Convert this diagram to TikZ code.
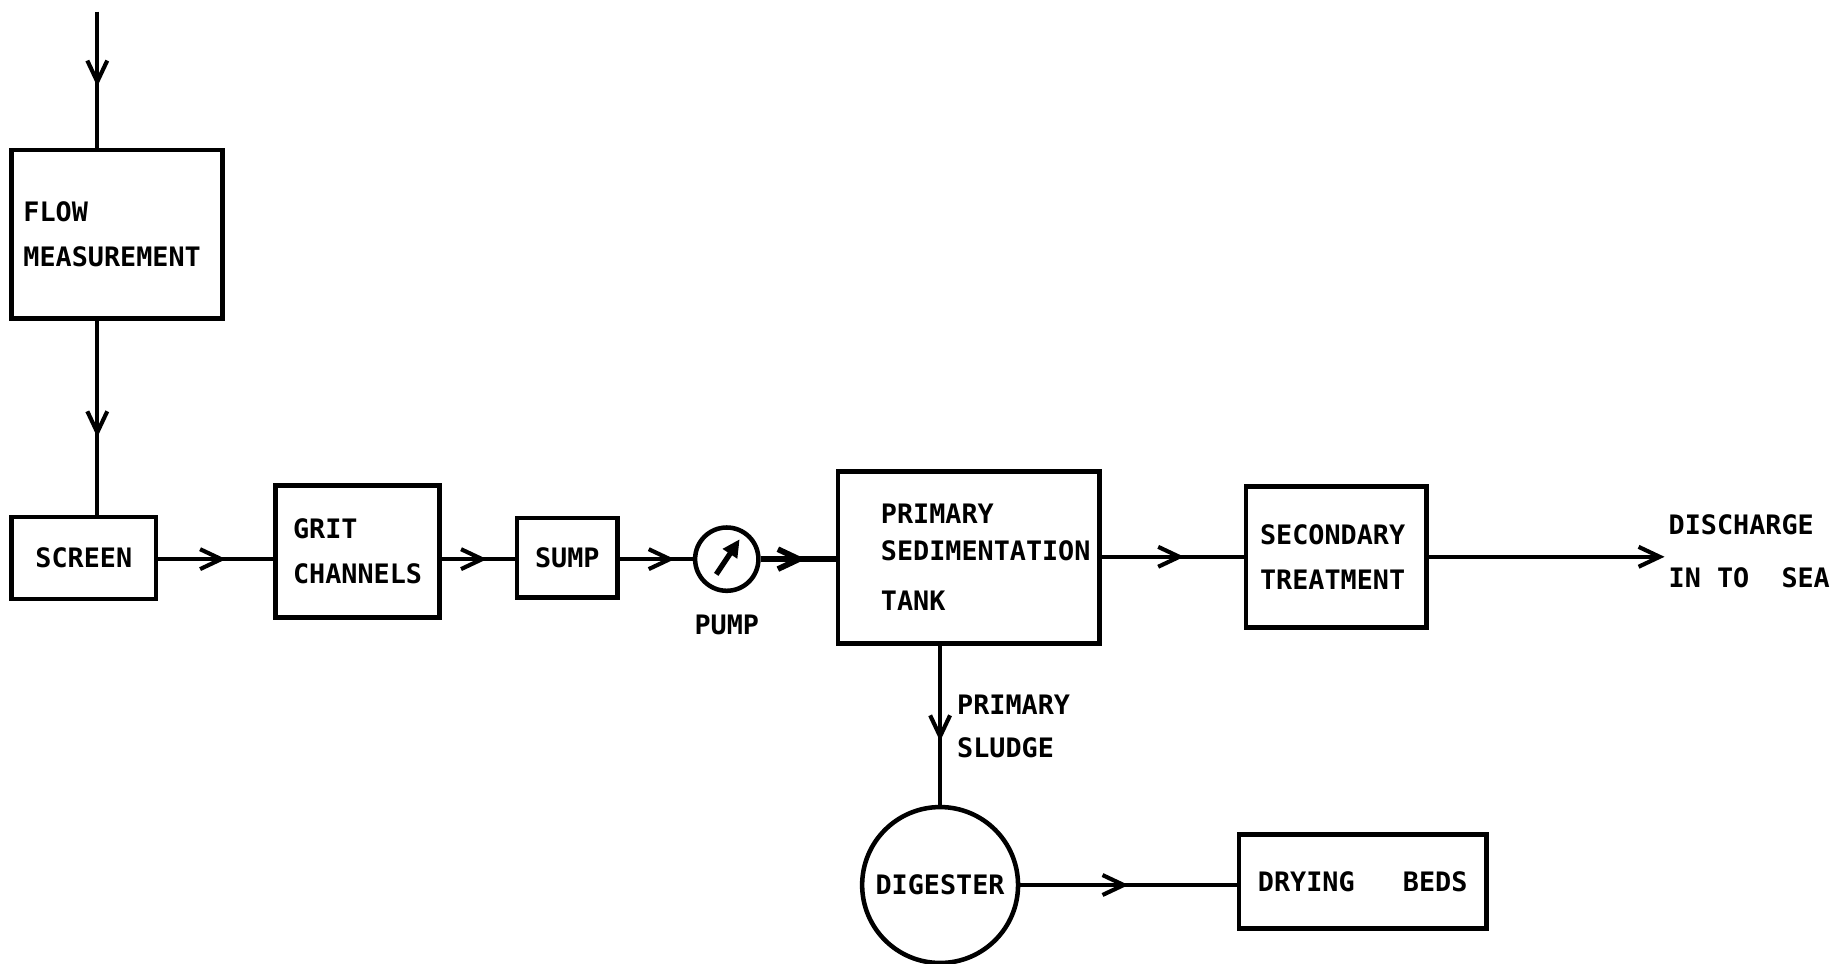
\documentclass[tikz,border=0pt]{standalone}
\usepackage{fontspec}
\setmonofont{DejaVu Sans Mono}
\usetikzlibrary{positioning,arrows.meta,decorations.markings,calc}

\begin{document}
\begin{tikzpicture}[x=0.2mm, y=-0.2mm, line width=2pt,
    every node/.style={font=\ttfamily\bfseries\fontsize{13}{22}\selectfont},
    unit/.style={draw, rectangle, inner ysep=0pt, line width=2.3pt},
    tank/.style={draw, circle, inner sep=0pt, line width=2.2pt},
    barb/.style={-{Straight Barb[length=3.6mm,width=3.4mm]}},
    flow/.style={postaction={decorate}, decoration={markings, mark=at position #1 with {\arrow{Straight Barb[length=3.6mm,width=3.4mm]}}}},
    flow/.default=0.55]
  \useasboundingbox (0,0) rectangle (1568,822);
  % units along the main line
  \node[unit, text width=32mm, inner xsep=2mm, minimum height=28.8mm, align=left] (flow) at (100,200) {FLOW\\MEASUREMENT};
  \node[unit, minimum width=24.6mm, minimum height=14mm] (screen) at (71.5,476) {SCREEN};
  \node[unit, text width=22mm, inner xsep=3mm, minimum height=22.6mm, align=left] (grit) at (305,470.5) {GRIT\\CHANNELS};
  \node[unit, minimum width=17.2mm, minimum height=13.6mm] (sump) at (484,476) {SUMP};
  \node[tank, minimum size=10.8mm] (pump) at (620,477) {};
  \node[below=2.3mm of pump] (pumplabel) {PUMP};
  \node[unit, text width=41.6mm, inner xsep=1.5mm, minimum height=29.4mm, align=left,
        font=\ttfamily\bfseries\fontsize{13}{18}\selectfont] (pst) at (826.5,475.5)
        {\hspace*{5.8mm}PRIMARY\\\hspace*{5.8mm}SEDIMENTATION\\[6pt]\hspace*{5.8mm}TANK};
  \node[unit, text width=26mm, inner xsep=2.4mm, minimum height=24mm, align=left] (sec) at (1140,475) {SECONDARY\\TREATMENT};
  \node[anchor=west, inner xsep=1pt, align=left, font=\ttfamily\bfseries\fontsize{13}{25.6}\selectfont] (sea) at (1420,470) {DISCHARGE\\IN TO\ \ SEA};
  % sludge line
  \node[anchor=west, align=left, font=\ttfamily\bfseries\fontsize{13}{21}\selectfont] (sludge) at (809,620) {PRIMARY\\SLUDGE};
  \node[tank, minimum size=26.6mm] (dig) at (802,755) {DIGESTER};
  \node[unit, minimum width=42.2mm, minimum height=16mm] (dry) at (1162.5,752) {DRYING\ \ \ BEDS};
  \coordinate (in) at (83,10);
  % connectors
  \draw[-{Triangle[length=3mm,width=2.8mm]}, line width=2.6pt] ([shift={(-9,13)}]pump.center) -- ([shift={(11,-17)}]pump.center);
  \path (in) edge[flow] (in |- flow.north);
  \path (flow.south -| in) edge[flow=0.6] (screen.north -| in);
  \path (screen.east |- pump) edge[flow=0.59] (grit.west |- pump);
  \path (grit.east |- pump) edge[flow=0.62] (sump.west |- pump);
  \path (sump.east |- pump) edge[flow=0.75] (pump.west);
  \path (pump.east) edge[flow=0.6, line width=2.8pt] (pst.west |- pump);
  \path (pst.east |- sec) edge[flow=0.58] (sec.west);
  \path (sec.east) edge[barb] (sec.east -| sea.west);
  \path (dig.north |- pst.south) edge[flow=0.6] (dig.north);
  \path (dig.east) edge[flow=0.5] (dig.east -| dry.west);
\end{tikzpicture}
\end{document}
